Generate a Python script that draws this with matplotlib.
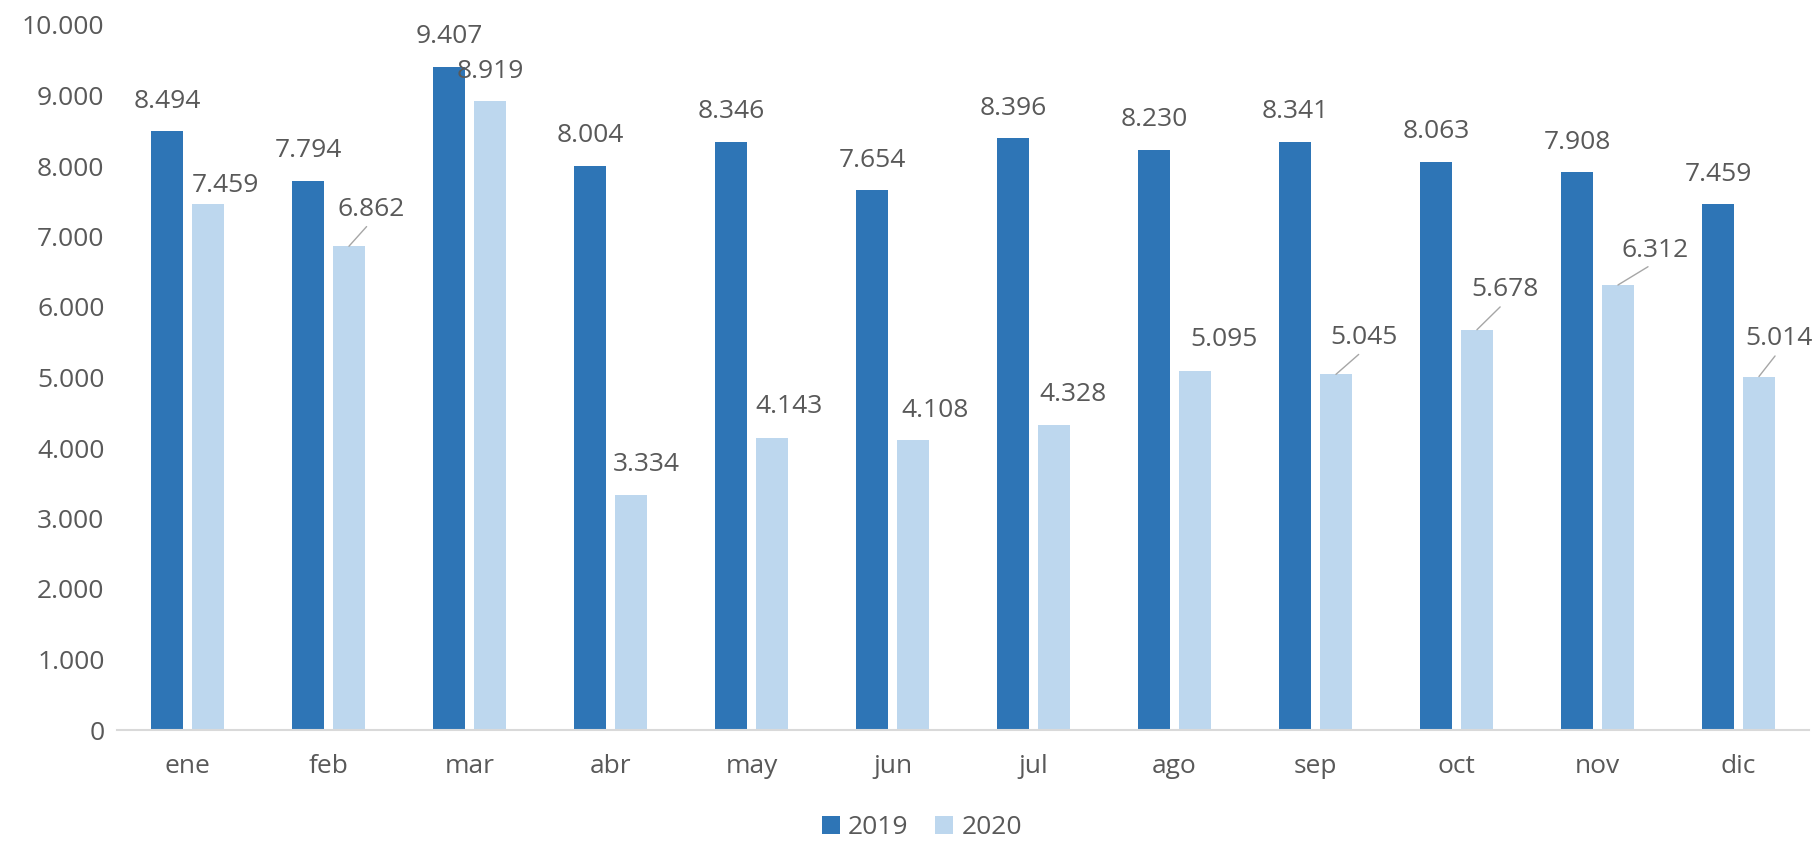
import matplotlib
matplotlib.use('Agg')
import matplotlib.pyplot as plt
import numpy as np
from matplotlib.ticker import FuncFormatter

months = ['ene', 'feb', 'mar', 'abr', 'may', 'jun', 'jul', 'ago', 'sep', 'oct', 'nov', 'dic']
values_2019 = [8494, 7794, 9407, 8004, 8346, 7654, 8396, 8230, 8341, 8063, 7908, 7459]
values_2020 = [7459, 6862, 8919, 3334, 4143, 4108, 4328, 5095, 5045, 5678, 6312, 5014]

# label placement for 2020 (pixels right / up from bar top), and which get a leader line
offsets_2020 = [(17, 19), (22, 37), (0, 30), (15, 30), (17, 31), (22, 30),
                (19, 30), (29, 31), (28, 37), (28, 40), (37, 35), (20, 38)]
leader_2020 = [False, True, False, False, False, False,
               False, False, True, True, True, True]

c2019 = '#2E75B6'
c2020 = '#BDD7EE'
txt = '#595959'
fs = 19
plt.rcParams['font.family'] = ['Open Sans', 'DejaVu Sans']


def fmt(v):
    return f'{int(v):,}'.replace(',', '.')


fig = plt.figure(figsize=(18.18, 8.41), dpi=100)
ax = fig.add_axes([117 / 1818, 1 - 730 / 841, (1809 - 117) / 1818, 705 / 841])

x = np.arange(len(months))
w = 0.227
off = 0.145
b1 = ax.bar(x - off, values_2019, w, color=c2019, label='2019')
b2 = ax.bar(x + off, values_2020, w, color=c2020, label='2020')

for xi, v in zip(x, values_2019):
    ax.annotate(fmt(v), (xi - off, v), xytext=(0, 30), textcoords='offset pixels',
                ha='center', va='center', fontsize=fs, color=txt)

for xi, v, (dx, up), lead in zip(x, values_2020, offsets_2020, leader_2020):
    if lead:
        ax.annotate(fmt(v), (xi + off, v), xytext=(dx, up), textcoords='offset pixels',
                    ha='center', va='center', fontsize=fs, color=txt,
                    arrowprops=dict(arrowstyle='-', color='#a6a6a6', lw=1,
                                    relpos=(0.5, 0.0), shrinkA=2, shrinkB=0))
    else:
        ax.annotate(fmt(v), (xi + off, v), xytext=(dx, up), textcoords='offset pixels',
                    ha='center', va='center', fontsize=fs, color=txt)

ax.set_xlim(-0.5, len(months) - 0.5)
ax.set_ylim(0, 10000)
ax.set_yticks(np.arange(0, 10001, 1000))
ax.yaxis.set_major_formatter(FuncFormatter(lambda v, p: fmt(v)))
ax.set_xticks(x)
ax.set_xticklabels(months)
ax.tick_params(axis='y', length=0, pad=9, labelsize=fs, labelcolor=txt)
ax.tick_params(axis='x', length=0, pad=17, labelsize=fs, labelcolor=txt)

for s in ['top', 'right', 'left']:
    ax.spines[s].set_visible(False)
ax.spines['bottom'].set_color('#d9d9d9')
ax.spines['bottom'].set_linewidth(1.5)

fig.legend(handles=[b1, b2], loc='center', bbox_to_anchor=(0.507, 0.016), ncol=2,
           frameon=False, fontsize=fs, labelcolor=txt, handlelength=0.7,
           handleheight=0.7, handletextpad=0.3, columnspacing=1.0)

fig.savefig('out.png', dpi=100)
